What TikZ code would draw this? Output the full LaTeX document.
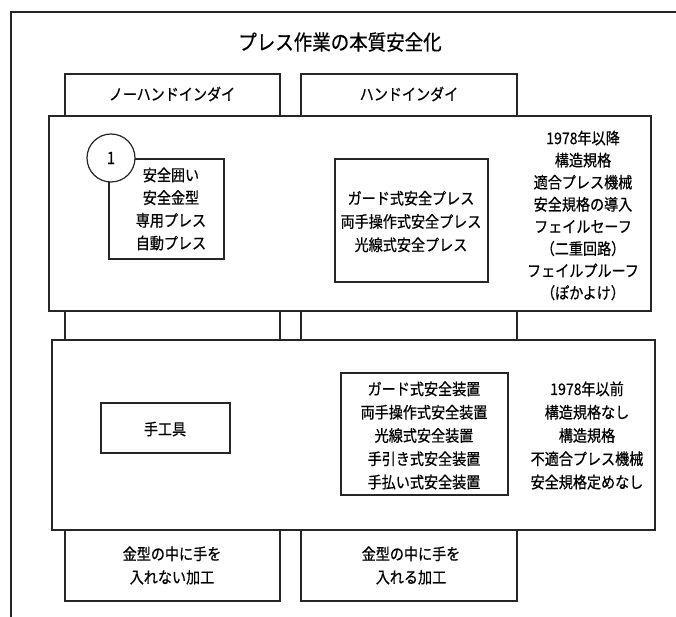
\documentclass[tikz,border=0pt]{standalone}
\usepackage{fontspec}
\setmainfont{Noto Sans CJK JP}[FakeStretch=0.88, FakeBold=0.6]
\begin{document}
\begin{tikzpicture}[x=1pt,y=-1pt,
  ln/.style={draw=black!85, line width=1.1pt},
  bx/.style={draw=black!85, line width=1.3pt, fill=white},
  tx/.style={align=center, inner sep=0pt, font=\fontsize{16}{22.7}\selectfont},
  tb/.style={align=center, inner sep=0pt, font=\fontsize{16}{23.3}\selectfont}]
\useasboundingbox (0,0) rectangle (676,617);
% outer frame (right and bottom edges lie outside the picture)
\draw[ln] (11,617) -- (11,12) -- (676,12);
\node[font=\fontsize{21}{24}\selectfont, inner sep=0pt] (title) at (340,42) {プレス作業の本質安全化};
% columns
\draw[ln] (65,74) rectangle (280,601);
\draw[ln] (301,74) rectangle (517,601);
\node[tx] (hl) at (172,94) {ノーハンドインダイ};
\node[tx] (hr) at (409,94) {ハンドインダイ};
% bands
\filldraw[ln, fill=white] (49,116) rectangle (651,311);
\filldraw[ln, fill=white] (52,340) rectangle (655,530);
% upper band contents
\draw[bx, line width=1.8pt] (109,159) rectangle (224,259);
\node[circle, draw=black!85, line width=1.2pt, fill=white, minimum size=48pt, inner sep=0pt, font=\fontsize{17}{20}\selectfont] (c1) at (111,158) {1};
\node[tx] (t1) at (171,209) {安全囲い\\安全金型\\専用プレス\\自動プレス};
\draw[bx] (335,159) rectangle (488,282);
\node[tb] (t2) at (411,221.5) {ガード式安全プレス\\両手操作式安全プレス\\光線式安全プレス};
\node[tx, font=\fontsize{16}{22.1}\selectfont] (t3) at (583,215.5) {1978年以降\\構造規格\\適合プレス機械\\安全規格の導入\\フェイルセーフ\\（二重回路）\\フェイルプルーフ\\（ぽかよけ）};
% lower band contents
\draw[bx] (101,403) rectangle (230,453);
\node[tx] (t4) at (165,429) {手工具};
\draw[bx] (341,373) rectangle (508,495);
\node[tb] (t5) at (424,435.5) {ガード式安全装置\\両手操作式安全装置\\光線式安全装置\\手引き式安全装置\\手払い式安全装置};
\node[tb] (t6) at (587,435.5) {1978年以前\\構造規格なし\\構造規格\\不適合プレス機械\\安全規格定めなし};
% bottom labels
\node[tb] (b1) at (172,565.5) {金型の中に手を\\入れない加工};
\node[tb] (b2) at (411,565.5) {金型の中に手を\\入れる加工};
\end{tikzpicture}
\end{document}
